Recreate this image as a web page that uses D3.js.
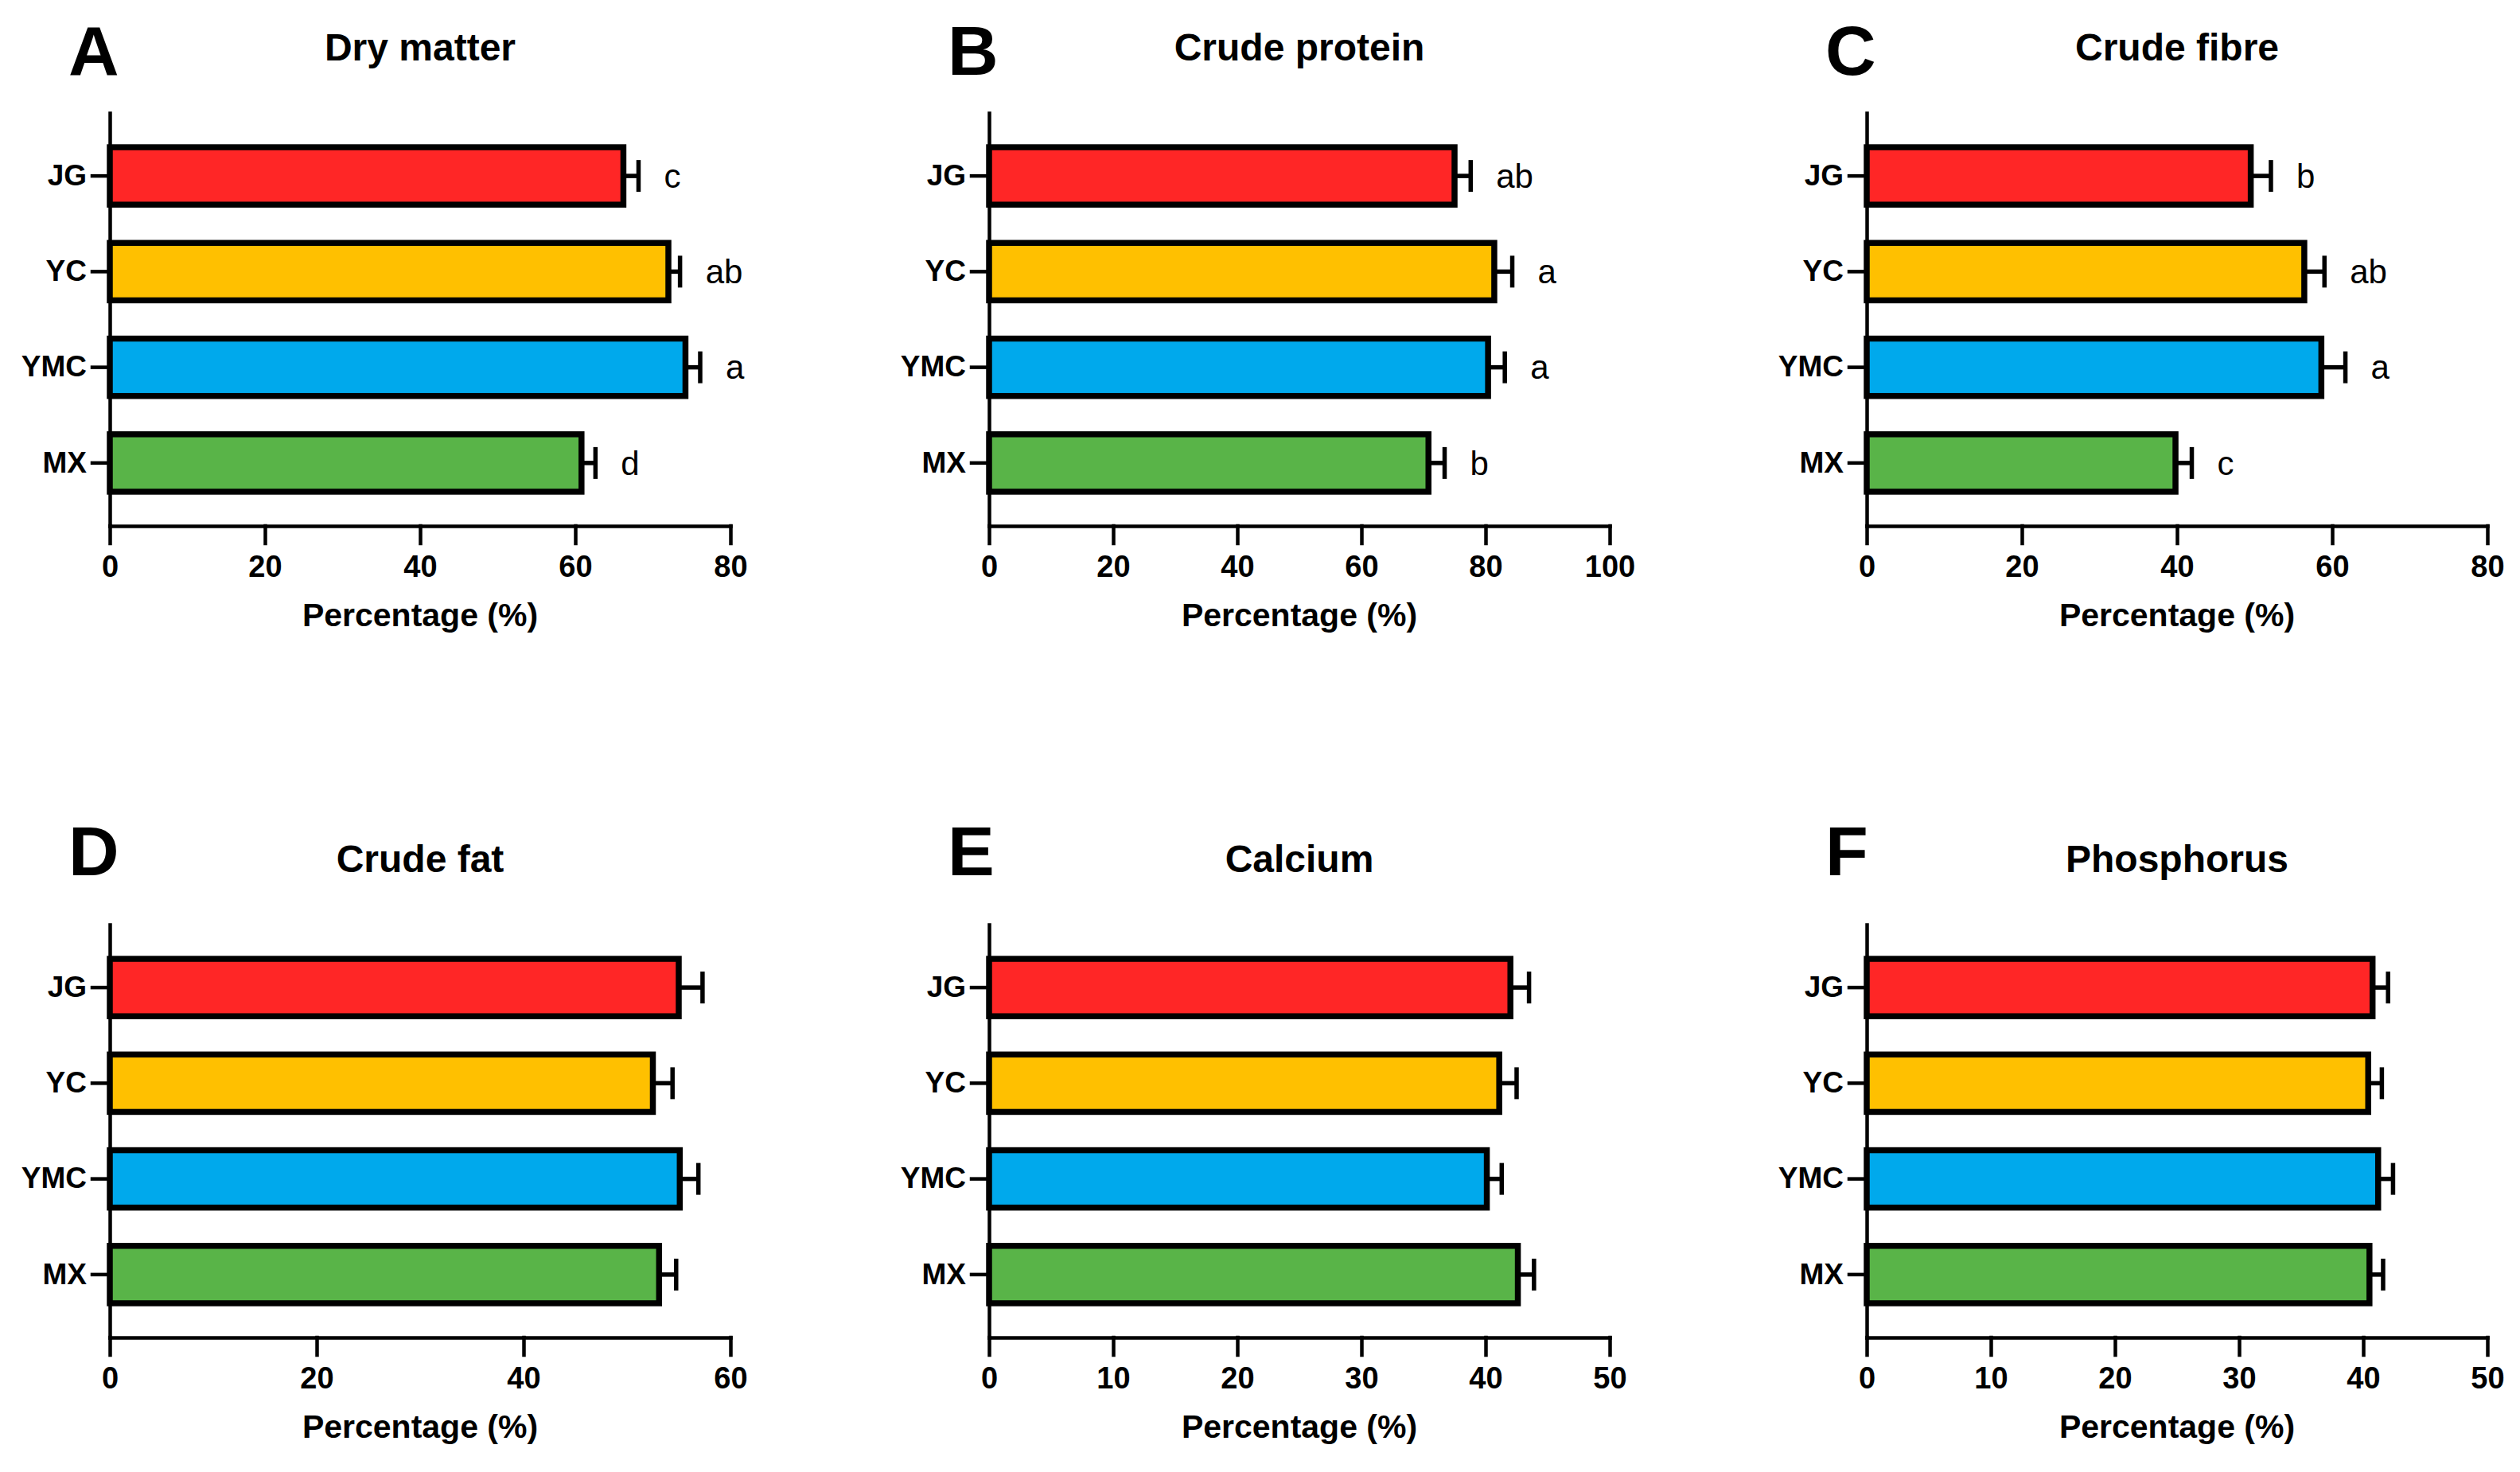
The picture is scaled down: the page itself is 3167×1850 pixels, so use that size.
<!DOCTYPE html>
<html>
<head>
<meta charset="utf-8">
<script src="https://cdn.jsdelivr.net/npm/d3@7"></script>
<style>
  body { margin: 0; background: #fff; }
  text { font-family: "Liberation Sans", Arial, sans-serif; }
</style>
</head>
<body>
<div class="container"></div>
<script>
// groups and their fill colours
var groups = ['JG', 'YC', 'YMC', 'MX'];
var groupColors = ['#ff2626', '#ffc000', '#00a9ec', '#59b448'];

// panel headings
var panelLetters = ['A', 'B', 'C', 'D', 'E', 'F'];
var panelTitles = ['Dry matter', 'Crude protein', 'Crude fibre', 'Crude fat', 'Calcium', 'Phosphorus'];

// x axis ticks per panel
var ticksA = [0, 20, 40, 60, 80];
var ticksB = [0, 20, 40, 60, 80, 100];
var ticksC = [0, 20, 40, 60, 80];
var ticksD = [0, 20, 40, 60];
var ticksE = [0, 10, 20, 30, 40, 50];
var ticksF = [0, 10, 20, 30, 40, 50];

// means (JG, YC, YMC, MX), error (SE) and significance letters
var dryMatter = [66.2, 72.0, 74.2, 60.8];
var dryMatterErr = [1.95, 1.5, 1.9, 1.8];
var dryMatterSig = ['c', 'ab', 'a', 'd'];

var crudeProtein = [75.0, 81.4, 80.4, 70.8];
var crudeProteinErr = [2.6, 2.9, 2.7, 2.6];
var crudeProteinSig = ['ab', 'a', 'a', 'b'];

var crudeFibre = [49.5, 56.4, 58.6, 39.8];
var crudeFibreErr = [2.6, 2.6, 3.1, 2.1];
var crudeFibreSig = ['b', 'ab', 'a', 'c'];

var crudeFat = [55.0, 52.5, 55.1, 53.1];
var crudeFatErr = [2.3, 1.9, 1.8, 1.65];

var calcium = [42.0, 41.1, 40.1, 42.6];
var calciumErr = [1.5, 1.4, 1.2, 1.3];

var phosphorus = [40.75, 40.4, 41.2, 40.5];
var phosphorusErr = [1.25, 1.1, 1.2, 1.1];

const WIDTH = 3167;
const HEIGHT = 1850;
const PLOT_W = 780;
const PLOT_H = 519;
var colX = [138, 1243, 2346];
var rowY = [142, 1162];
var letterY = [94, 1100];

var panels = [
    {means: dryMatter, errs: dryMatterErr, sig: dryMatterSig, ticks: ticksA},
    {means: crudeProtein, errs: crudeProteinErr, sig: crudeProteinSig, ticks: ticksB},
    {means: crudeFibre, errs: crudeFibreErr, sig: crudeFibreSig, ticks: ticksC},
    {means: crudeFat, errs: crudeFatErr, sig: null, ticks: ticksD},
    {means: calcium, errs: calciumErr, sig: null, ticks: ticksE},
    {means: phosphorus, errs: phosphorusErr, sig: null, ticks: ticksF}
];

var svg = d3.select('.container').append('svg')
    .attr('width', WIDTH)
    .attr('height', HEIGHT)
    .style('background', '#fff');

panels.forEach(function (p, i) {
    var col = i % 3, row = Math.floor(i / 3);
    var g = svg.append('g')
        .attr('transform', 'translate(' + colX[col] + ',' + rowY[row] + ')');

    var x = d3.scaleLinear()
        .domain([0, p.ticks[p.ticks.length - 1]])
        .range([0, PLOT_W]);

    var y = d3.scaleBand()
        .domain(groups)
        .range([0, PLOT_H])
        .paddingInner(0.4)
        .paddingOuter(0.358);

    var rows = groups.map(function (gname, k) {
        return {name: gname, v: p.means[k], e: p.errs[k], color: groupColors[k],
                sig: p.sig ? p.sig[k] : null};
    });

    // error bars (drawn first so the bar outline sits on top)
    var err = g.append('g').attr('stroke', '#000').attr('stroke-width', 5.5);
    err.selectAll('line.eh').data(rows).enter().append('line')
        .attr('class', 'eh')
        .attr('x1', function (d) { return x(d.v); })
        .attr('x2', function (d) { return x(d.v + d.e); })
        .attr('y1', function (d) { return y(d.name) + y.bandwidth() / 2; })
        .attr('y2', function (d) { return y(d.name) + y.bandwidth() / 2; });
    err.selectAll('line.ec').data(rows).enter().append('line')
        .attr('class', 'ec')
        .attr('x1', function (d) { return x(d.v + d.e); })
        .attr('x2', function (d) { return x(d.v + d.e); })
        .attr('y1', function (d) { return y(d.name) + y.bandwidth() / 2 - 20; })
        .attr('y2', function (d) { return y(d.name) + y.bandwidth() / 2 + 20; });

    // bars
    g.selectAll('rect.bar').data(rows).enter().append('rect')
        .attr('class', 'bar')
        .attr('x', x(0))
        .attr('y', function (d) { return y(d.name); })
        .attr('width', function (d) { return x(d.v) - x(0); })
        .attr('height', y.bandwidth())
        .attr('fill', function (d) { return d.color; })
        .attr('stroke', '#000')
        .attr('stroke-width', 7.5);

    // significance letters
    if (p.sig) {
        g.selectAll('text.sig').data(rows).enter().append('text')
            .attr('class', 'sig')
            .attr('x', function (d) { return x(d.v + d.e) + 32; })
            .attr('y', function (d) { return y(d.name) + y.bandwidth() / 2; })
            .attr('dy', '0.35em')
            .style('font-size', '42px')
            .text(function (d) { return d.sig; });
    }

    // axes
    var xAxis = d3.axisBottom(x).tickValues(p.ticks).tickSize(22).tickSizeOuter(0).tickPadding(15);
    var xg = g.append('g')
        .attr('transform', 'translate(0,' + PLOT_H + ')')
        .call(xAxis);
    xg.selectAll('text').style('font-size', '38px').style('font-weight', 'bold').attr('fill', '#000');

    var yAxis = d3.axisLeft(y).tickSize(22).tickSizeOuter(0).tickPadding(7);
    var yg = g.append('g').call(yAxis);
    yg.selectAll('text').style('font-size', '37px').style('font-weight', 'bold').attr('fill', '#000');

    [xg, yg].forEach(function (a) {
        a.selectAll('path, line').attr('stroke', '#000').attr('stroke-width', 4.5)
            .attr('stroke-linecap', 'square');
    });

    // axis title
    g.append('text')
        .attr('x', PLOT_W / 2)
        .attr('y', PLOT_H + 126)
        .attr('text-anchor', 'middle')
        .style('font-size', '41px')
        .style('font-weight', 'bold')
        .text('Percentage (%)');

    // panel title
    g.append('text')
        .attr('x', PLOT_W / 2)
        .attr('y', -66)
        .attr('text-anchor', 'middle')
        .style('font-size', '48px')
        .style('font-weight', 'bold')
        .text(panelTitles[i]);

    // panel letter
    svg.append('text')
        .attr('x', colX[col] - 52)
        .attr('y', letterY[row])
        .style('font-size', '88px')
        .style('font-weight', 'bold')
        .text(panelLetters[i]);
});
</script>
</body>
</html>
